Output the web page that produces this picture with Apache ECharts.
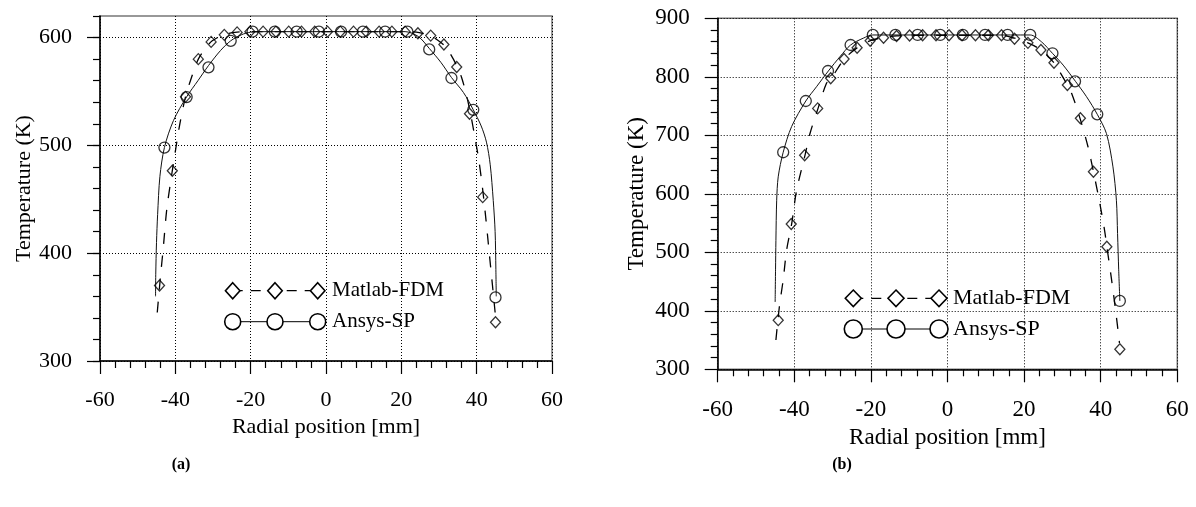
<!DOCTYPE html>
<html>
<head>
<meta charset="utf-8">
<script src="https://cdn.jsdelivr.net/npm/echarts@6/dist/echarts.min.js"></script>
<style>html,body{margin:0;padding:0;background:#fff}#c{width:1196px;height:507px}</style>
</head>
<body>
<div id="c"></div>
<script>
// ---------- data ----------
const radialDiamond = [-44.2,-40.8,-37.3,-33.9,-30.5,-27.0,-23.6,-20.2,-16.7,-13.3,-9.9,-6.5,-3.0,0.4,3.8,7.3,10.7,14.1,17.5,21.0,24.4,27.8,31.3,34.7,38.1,41.6,45.0];
const radialCircle = [-42.9,-37.0,-31.2,-25.3,-19.5,-13.6,-7.8,-1.9,4.0,9.8,15.7,21.6,27.4,33.3,39.1,45.0];

// (a)
const matlabA = [370,476.5,545,580,596,602.5,604.8,605.5,605.5,605.5,605.5,605.5,605.5,605.5,605.5,605.5,605.5,605.5,605.5,605.5,604,601.8,593.5,572.7,529.4,452,336];
const ansysA = [498,544.8,572.4,597,605.5,605.5,605.5,605.5,605.5,605.5,605.5,605.5,589,562.5,533,359];
const curveMatlabAX = [-44.8,-43.9,-43.2,-42.3,-41.3,-40.2,-38.8,-37.3,-35.8,-33.9,-32.0,-30.2,-27.0,-23.6,-20.0,0,20,24.0,26.0,27.8,29.5,31.3,33.0,34.7,36.0,37.4,38.5,39.5,40.5,41.5,42.5,43.4,44.2,44.9];
const curveMatlabAY = [345,380,405,440,465,490,520,545,562,580,590,597,602.8,605,605.5,605.5,605.5,605,603.5,601.5,598,593,585,574,563,545,527,508,488,462,430,398,370,345];
const curveAnsysAX = [-45.25,-45.2,-45.0,-44.7,-44.1,-42.9,-40.5,-37.0,-34.0,-31.2,-28.0,-25.3,-22.5,-20.0,-15.0,0,15,21.0,24.5,27.4,30.5,33.3,36.5,39.1,41.2,42.6,43.6,44.4,44.9,45.1,45.2];
const curveAnsysAY = [360,380,410,436,471,498,523,545,560,574,588,597,602.5,605,605.5,605.5,605.5,605.5,601,590,577,563,549,533,518,503,482,449,420,385,360];

// (b)
const matlabB = [384,548.4,666,746,797.4,830.4,849.7,861.7,866.8,869.7,870.5,871,871,871,871,871,871,871,865,858,845.8,824.1,786,729,637.8,509.6,334.2];
const ansysB = [671,758.6,809.9,854.4,871.5,871.5,871.5,871.5,871.5,871.5,871.5,871.5,840.2,792.3,735.9,416.8];
const curveMatlabBX = [-44.8,-43.9,-42.9,-42.0,-40.7,-39.4,-37.2,-35.9,-33.8,-31.6,-30.4,-27.0,-23.5,-20.1,-16.8,-13.3,-9.9,0,14.1,17.5,21.0,24.4,27.8,29.0,31.3,32.4,34.6,36.7,38.1,39.7,41.0,41.6,42.8,44.0,44.9];
const curveMatlabBY = [350,407,453,504,548,606,666,703,746,789,797,830,850,862,867,870,871,871,871,866,858,846,824,812,786,772,729,680,638,586,538,510,455,395,345];
const curveAnsysBX = [-45.0,-44.9,-44.8,-44.6,-44.2,-42.9,-40.7,-37.0,-34.2,-31.1,-28.0,-25.3,-22.0,-19.5,0,21.6,24.5,27.4,30.2,33.4,36.3,39.1,41.5,43.2,44.1,44.4,44.7,45.0];
const curveAnsysBY = [415,470,520,589,629,671,715,758.6,783,810,835,854.4,866,871.5,871.5,871.5,860,840.2,820,792.3,766,735.9,703,646,589,532,470,416.8];

const xTicksMin = -60, xTicksMax = 60, xStep = 20;
const yTicksA = [300, 400, 500, 600];
const seriesNames = ['Matlab-FDM', 'Ansys-SP'];
const panelLabels = ['(a)', '(b)'];
const xTitle = 'Radial position [mm]';
const yTitle = 'Temperature (K)';

// ---------- helpers ----------
const FONT = 'Liberation Serif';
const pairs = (xs, ys) => xs.map((x, i) => [x, ys[i]]);
const dotted = { show: true, lineStyle: { color: '#000', width: 1, type: [1, 2] } };

function xAxisCfg(gridIndex, fs, margin, gap) {
  return {
    gridIndex, type: 'value', min: xTicksMin, max: xTicksMax, interval: xStep,
    axisLine: { show: true, onZero: false, lineStyle: { color: '#000', width: 1.5 } },
    axisTick: { show: true, length: 13, lineStyle: { color: '#000', width: 1.2 } },
    minorTick: { show: true, splitNumber: 5, length: 7, lineStyle: { color: '#000', width: 1.2 } },
    axisLabel: { color: '#000', fontFamily: FONT, fontSize: fs, margin },
    splitLine: dotted,
    name: xTitle, nameLocation: 'middle', nameGap: gap,
    nameTextStyle: { color: '#000', fontFamily: FONT, fontSize: fs },
    z: 3
  };
}

function diamondPts(cx, cy, w, h) {
  return [[cx, cy - h / 2], [cx + w / 2, cy], [cx, cy + h / 2], [cx - w / 2, cy]];
}

function legendGraphics(xs, y1, y2, textX, fs, dw, dh, r) {
  const els = [];
  els.push({ type: 'line', shape: { x1: xs[0], y1: y1, x2: xs[2], y2: y1 },
    style: { stroke: '#000', lineWidth: 1.3, lineDash: [10, 8] } });
  els.push({ type: 'line', shape: { x1: xs[0], y1: y2, x2: xs[2], y2: y2 },
    style: { stroke: '#000', lineWidth: 1 } });
  xs.forEach(x => {
    els.push({ type: 'polygon', shape: { points: diamondPts(x, y1, dw, dh) },
      style: { fill: '#fff', stroke: '#000', lineWidth: 1.6 } });
    els.push({ type: 'circle', shape: { cx: x, cy: y2, r: r },
      style: { fill: '#fff', stroke: '#000', lineWidth: 1.6 } });
  });
  els.push({ type: 'text', x: textX, y: y1, style: { text: seriesNames[0], fill: '#000', font: fs + 'px "' + FONT + '"', verticalAlign: 'middle', align: 'left' } });
  els.push({ type: 'text', x: textX, y: y2, style: { text: seriesNames[1], fill: '#000', font: fs + 'px "' + FONT + '"', verticalAlign: 'middle', align: 'left' } });
  return els;
}

function curveSeries(name, xi, yi, data, dashed) {
  return {
    name, type: 'line', xAxisIndex: xi, yAxisIndex: yi, data, showSymbol: false, symbol: 'none',
    smooth: 0.3, silent: true, z: 4,
    lineStyle: dashed ? { color: '#000', width: 1.3, type: [11, 12] } : { color: '#111', width: 1 }
  };
}
function markerSeries(name, xi, yi, data, symbol, size) {
  return {
    name, type: 'scatter', xAxisIndex: xi, yAxisIndex: yi, data, symbol, symbolSize: size, z: 5,
    itemStyle: { color: 'rgba(0,0,0,0)', borderColor: '#000', borderWidth: 1.3 }
  };
}

// ---------- layout ----------
const gA = { left: 100, top: 16, width: 452, height: 345 };
const gB = { left: 717.7, top: 18.3, width: 459.6, height: 351 };

const chart = echarts.init(document.getElementById('c'), null, { renderer: 'canvas' });
chart.setOption({
  animation: false,
  backgroundColor: '#fff',
  grid: [
    Object.assign({ show: true, borderColor: '#777', borderWidth: 1.5, backgroundColor: 'transparent' }, gA),
    Object.assign({ show: false }, gA),
    Object.assign({ show: true, borderColor: '#777', borderWidth: 1.5, backgroundColor: 'transparent' }, gB)
  ],
  xAxis: [
    xAxisCfg(0, 22, 28, 55),
    { gridIndex: 1, type: 'value', min: xTicksMin, max: xTicksMax, show: false, axisLine: { onZero: false } },
    xAxisCfg(2, 23, 29, 54)
  ],
  yAxis: [
    { // (a) minor ticks + axis line
      gridIndex: 0, type: 'value', min: 300, max: 620, interval: 20,
      axisLine: { show: true, onZero: false, lineStyle: { color: '#000', width: 1.5 } },
      axisTick: { show: true, length: 7, lineStyle: { color: '#000', width: 1.2 } },
      axisLabel: { show: false }, splitLine: { show: false },
      name: yTitle, nameLocation: 'middle', nameGap: 65,
      nameTextStyle: { color: '#000', fontFamily: FONT, fontSize: 22 }, z: 3
    },
    { // (a) major ticks, labels and grid lines at custom values only
      gridIndex: 1, type: 'value', position: 'left', min: 300, max: 620, interval: 100,
      axisLine: { show: false, onZero: false },
      axisTick: { show: true, length: 13, customValues: yTicksA, lineStyle: { color: '#000', width: 1.2 } },
      axisLabel: { color: '#000', fontFamily: FONT, fontSize: 22, margin: 28, customValues: yTicksA },
      splitLine: dotted, z: 1
    },
    { // (b)
      gridIndex: 2, type: 'value', min: 300, max: 900, interval: 100,
      axisLine: { show: true, onZero: false, lineStyle: { color: '#000', width: 1.5 } },
      axisTick: { show: true, length: 13, lineStyle: { color: '#000', width: 1.2 } },
      minorTick: { show: true, splitNumber: 5, length: 7, lineStyle: { color: '#000', width: 1.2 } },
      axisLabel: { color: '#000', fontFamily: FONT, fontSize: 23, margin: 28 },
      splitLine: dotted,
      name: yTitle, nameLocation: 'middle', nameGap: 69,
      nameTextStyle: { color: '#000', fontFamily: FONT, fontSize: 23 }, z: 3
    }
  ],
  series: [
    curveSeries(seriesNames[0], 0, 0, pairs(curveMatlabAX, curveMatlabAY), true),
    curveSeries(seriesNames[1], 0, 0, pairs(curveAnsysAX, curveAnsysAY), false),
    markerSeries(seriesNames[0], 0, 0, pairs(radialDiamond, matlabA), 'diamond', [10, 11]),
    markerSeries(seriesNames[1], 0, 0, pairs(radialCircle, ansysA), 'circle', 11),
    curveSeries(seriesNames[0], 2, 2, pairs(curveMatlabBX, curveMatlabBY), true),
    curveSeries(seriesNames[1], 2, 2, pairs(curveAnsysBX, curveAnsysBY), false),
    markerSeries(seriesNames[0], 2, 2, pairs(radialDiamond, matlabB), 'diamond', [10, 11]),
    markerSeries(seriesNames[1], 2, 2, pairs(radialCircle, ansysB), 'circle', 11)
  ],
  graphic: [].concat(
    legendGraphics([232.7, 275, 317.7], 290.7, 321.7, 332, 21, 14.5, 16, 8),
    legendGraphics([853.3, 896, 939], 298.3, 329, 953, 22, 16, 16.5, 9),
    [
      { type: 'text', x: 181, y: 465, style: { text: panelLabels[0], fill: '#000', font: 'bold 16px "' + FONT + '"', align: 'center', verticalAlign: 'middle' } },
      { type: 'text', x: 842, y: 465, style: { text: panelLabels[1], fill: '#000', font: 'bold 16px "' + FONT + '"', align: 'center', verticalAlign: 'middle' } }
    ]
  )
});
</script>
</body>
</html>
